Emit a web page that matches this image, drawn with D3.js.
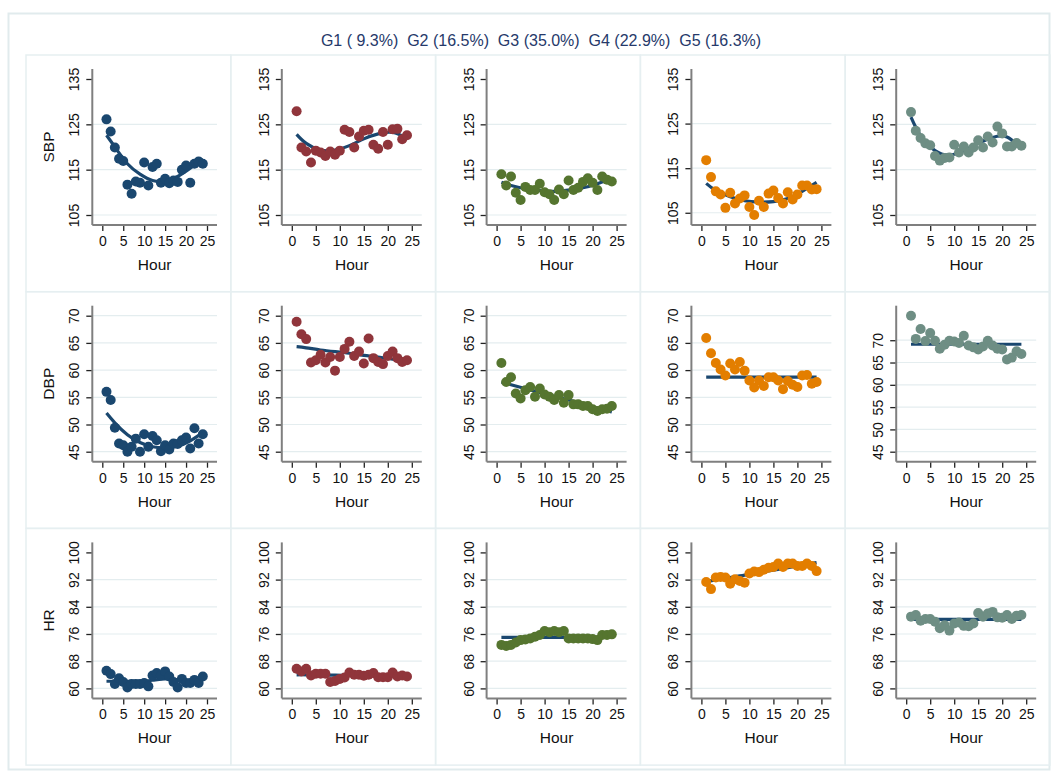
<!DOCTYPE html>
<html>
<head>
<meta charset="utf-8">
<script src="https://cdn.jsdelivr.net/npm/d3@7"></script>
<style>
  body { margin: 0; background: #fff; }
  svg { display: block; font-family: "Liberation Sans", Arial, sans-serif; }
</style>
</head>
<body>
<div id="chart"></div>
<script>
// ---- data ----
const groups = ["G1", "G2", "G3", "G4", "G5"];
const groupPct = ["9.3", "16.5", "35.0", "22.9", "16.3"];
const hours = [1,2,3,4,5,6,7,8,9,10,11,12,13,14,15,16,17,18,19,20,21,22,23,24];
const fitHours = [1, 3, 6, 9, 12, 15, 18, 21, 24];
const xTicks = [0, 5, 10, 15, 20, 25];

const sbpTicks = [105, 115, 125, 135];
const sbpGrid = [105, 115, 125];
const sbpObs = [
  [126.1,123.4,119.9,117.4,116.9,111.7,109.7,112.4,112.1,116.6,111.5,115.6,116.3,112.1,113.0,112.0,112.6,112.3,115.0,115.9,112.1,116.3,116.8,116.3],
  [127.9,119.9,119.0,116.6,119.2,118.8,118.0,119.0,118.3,119.2,123.8,123.3,119.9,122.3,123.6,123.8,120.5,119.6,123.3,120.5,123.9,124.0,121.7,122.6],
  [114.0,111.5,113.5,109.9,108.3,111.2,110.5,110.5,111.9,110.0,109.6,108.3,110.6,109.6,112.6,110.5,111.0,112.3,113.1,112.1,110.5,113.5,112.8,112.4],
  [116.8,113.0,109.8,109.1,106.1,109.5,107.1,108.2,108.9,106.3,104.5,107.7,106.3,109.3,110.0,108.3,107.1,109.6,108.0,109.1,111.1,111.1,110.2,110.3],
  [127.7,123.6,122.0,120.8,120.4,118.0,117.0,117.6,117.7,120.5,118.8,120.1,118.8,119.9,121.5,119.9,122.3,121.0,124.5,123.0,120.1,120.1,120.9,120.3]
];
const sbpFit = [
  [122.6,120.0,116.3,114.0,112.6,112.5,113.5,115.3,117.4],
  [122.8,120.8,119.3,119.3,120.3,121.8,122.9,123.2,122.0],
  [112.2,111.5,110.8,110.4,110.2,110.5,111.0,111.9,113.1],
  [111.6,110.0,108.6,107.7,107.4,107.5,108.2,109.8,111.8],
  [126.6,122.5,119.2,118.2,119.2,120.8,122.1,122.2,119.5]
];

const dbpTicks = [45, 50, 55, 60, 65, 70];
const dbpGrid = [45, 50, 55, 60, 65, 70];
const dbpObs = [
  [56.0,54.5,49.4,46.5,46.2,45.0,45.9,47.4,45.0,48.2,45.9,47.9,47.1,45.1,46.2,45.4,46.5,46.4,47.1,47.6,45.6,49.3,46.5,48.2],
  [68.9,66.6,65.7,61.4,61.8,62.8,61.4,62.4,59.9,62.4,63.9,65.2,62.6,63.4,61.2,65.8,62.2,61.5,61.1,62.6,63.4,62.2,61.5,61.8],
  [61.3,57.8,58.7,55.7,54.8,56.3,56.9,55.1,56.6,55.5,55.1,54.5,55.4,54.0,55.4,53.7,53.7,53.4,53.4,52.8,52.5,52.8,52.9,53.4],
  [65.9,63.1,61.3,60.1,59.0,61.2,60.1,61.5,59.9,58.1,56.8,58.1,57.1,58.7,58.7,58.1,56.5,58.0,57.3,56.9,59.0,59.1,57.5,57.8],
  [75.5,70.3,72.5,69.8,71.6,69.9,68.1,69.0,69.9,69.7,69.4,71.0,68.8,68.4,67.9,68.6,69.9,68.8,68.1,67.9,65.7,66.1,67.5,66.9]
];
const dbpFit = [
  [52.1,50.3,48.1,46.7,45.9,45.7,46.0,47.0,48.5],
  [64.3,64.1,63.7,63.4,63.1,62.7,62.4,62.0,61.7],
  [57.8,57.3,56.6,55.9,55.2,54.5,53.8,53.0,52.3],
  [58.7,58.7,58.7,58.7,58.7,58.7,58.7,58.7,58.7],
  [69.1,69.1,69.1,69.1,69.1,69.1,69.1,69.1,69.1]
];

const hrTicks = [60, 68, 76, 84, 92, 100];
const hrGrid = [60, 68, 76, 84, 92];
const hrObs = [
  [65.2,64.2,61.3,63.0,61.9,60.3,61.3,61.3,61.3,61.6,60.6,63.8,64.5,63.8,65.0,63.5,61.9,60.3,62.8,61.6,61.6,62.5,61.6,63.5],
  [65.8,65.0,65.8,63.8,64.3,64.3,64.3,61.9,62.2,62.8,63.2,64.7,64.0,64.0,63.7,64.0,64.5,63.3,63.3,63.3,64.7,63.5,63.8,63.5],
  [72.8,72.5,72.8,73.5,74.2,74.4,74.7,75.2,75.7,76.9,76.5,76.9,76.5,76.9,74.7,74.7,74.7,74.7,74.7,74.5,74.2,75.7,75.7,75.9],
  [91.3,89.2,92.6,92.8,92.6,90.8,92.1,91.6,91.1,93.8,94.4,94.2,94.9,95.5,95.7,96.7,95.7,96.7,96.7,96.0,96.0,96.7,96.0,94.5],
  [81.1,81.6,79.9,80.4,80.4,79.6,77.7,78.6,77.0,79.1,79.4,78.4,78.3,79.1,82.2,81.1,82.0,82.5,80.9,80.8,81.6,80.4,81.4,81.6]
];
const hrFit = [
  [62.1,62.1,62.1,62.1,62.4,62.8,62.5,62.2,62.2],
  [64.0,64.0,63.9,63.9,63.8,63.8,63.8,63.7,63.7],
  [75.0,75.0,75.0,75.0,75.0,75.0,75.0,75.0,75.0],
  [91.4,91.9,92.6,93.3,94.1,94.8,95.5,96.3,97.0],
  [80.3,80.3,80.3,80.3,80.3,80.3,80.3,80.3,80.3]
];

// ---- styles ----
const groupColors = ["#1a476f", "#90353b", "#55752f", "#e37e00", "#6e8e84"];
const fitColor = "#1a476f";

const width = 1053, height = 775;
const gridLeft = 26, gridTop = 55, cellW = 204.8, cellH = 236.7;

const measures = [
  {label: "SBP", ticks: sbpTicks, grid: sbpGrid, obs: sbpObs, fit: sbpFit},
  {label: "DBP", ticks: dbpTicks, grid: dbpGrid, obs: dbpObs, fit: dbpFit},
  {label: "HR",  ticks: hrTicks,  grid: hrGrid,  obs: hrObs,  fit: hrFit}
];

const svg = d3.select("#chart").append("svg")
  .attr("width", width)
  .attr("height", height);

// outer frame
svg.append("rect")
  .attr("x", 8.5).attr("y", 13.5)
  .attr("width", 1041).attr("height", 756)
  .attr("fill", "none")
  .attr("stroke", "#e1ebed")
  .attr("stroke-width", 2);

// title line with the group shares (double spaces kept)
svg.append("text")
  .attr("x", 541).attr("y", 46)
  .attr("text-anchor", "middle")
  .attr("xml:space", "preserve")
  .style("white-space", "pre")
  .attr("font-size", 16)
  .attr("fill", "#26396a")
  .text(groups.map((g, i) => `${g} (${groupPct[i].padStart(4, "\u00a0")}%)`).join("\u00a0\u00a0"));

measures.forEach((m, r) => {
  groups.forEach((g, c) => {
    const L = gridLeft + c * cellW;
    const T = gridTop + r * cellH;
    const ax0 = L + (c === 0 ? 66.3 : 51);
    const ax1 = L + 191;
    const ay0 = T + 14;
    const ay1 = T + 170;

    const obs = m.obs[c];
    const lo = Math.min(d3.min(m.ticks), d3.min(obs));
    const hi = Math.max(d3.max(m.ticks), d3.max(obs));

    const x = d3.scaleLinear().domain([0, 25]).range([ax0 + 10, ax1 - 10]);
    const y = d3.scaleLinear().domain([lo, hi]).range([ay1 - 10, ay0 + 10]);

    const panel = svg.append("g");

    // panel frame
    panel.append("rect")
      .attr("x", L).attr("y", T)
      .attr("width", cellW).attr("height", cellH)
      .attr("fill", "none")
      .attr("stroke", "#e6eff1")
      .attr("stroke-width", 1.5);

    // gridlines
    panel.selectAll(".grid")
      .data(m.grid)
      .enter().append("line")
      .attr("x1", ax0).attr("x2", ax1)
      .attr("y1", d => y(d)).attr("y2", d => y(d))
      .attr("stroke", "#e4edef")
      .attr("stroke-width", 1.2);

    // y axis (rotated tick labels)
    const yAxis = panel.append("g")
      .attr("transform", `translate(${ax0},0)`)
      .call(d3.axisLeft(y).tickValues(m.ticks).tickSize(6).tickSizeOuter(0));
    yAxis.select(".domain").remove();
    yAxis.selectAll(".tick line").attr("stroke", "#222").attr("stroke-width", 1.3);
    yAxis.selectAll(".tick text")
      .attr("x", null).attr("dy", null)
      .attr("text-anchor", "middle")
      .attr("transform", "translate(-13,0) rotate(-90)")
      .attr("font-size", 14)
      .attr("font-family", null)
      .attr("fill", "#111");

    // x axis
    const xAxis = panel.append("g")
      .attr("transform", `translate(0,${ay1})`)
      .call(d3.axisBottom(x).tickValues(xTicks).tickSize(6).tickSizeOuter(0).tickPadding(5));
    xAxis.select(".domain").remove();
    xAxis.selectAll(".tick line").attr("stroke", "#222").attr("stroke-width", 1.3);
    xAxis.selectAll(".tick text")
      .attr("font-size", 14)
      .attr("font-family", null)
      .attr("fill", "#111");

    // axis lines spanning the plot region
    panel.append("line")
      .attr("x1", ax0).attr("x2", ax0)
      .attr("y1", ay0).attr("y2", ay1)
      .attr("stroke", "#7f7f7f").attr("stroke-width", 2);
    panel.append("line")
      .attr("x1", ax0).attr("x2", ax1)
      .attr("y1", ay1).attr("y2", ay1)
      .attr("stroke", "#7f7f7f").attr("stroke-width", 2);

    // fitted trajectory
    const line = d3.line()
      .x((d, i) => x(fitHours[i]))
      .y(d => y(d))
      .curve(d3.curveNatural);
    panel.append("path")
      .datum(m.fit[c])
      .attr("d", line)
      .attr("fill", "none")
      .attr("stroke", fitColor)
      .attr("stroke-width", 3.2);

    // observed means
    panel.selectAll(".pt")
      .data(obs)
      .enter().append("circle")
      .attr("cx", (d, i) => x(hours[i]))
      .attr("cy", d => y(d))
      .attr("r", 5)
      .attr("fill", groupColors[c]);

    // axis titles
    panel.append("text")
      .attr("x", (ax0 + ax1) / 2)
      .attr("y", T + 215)
      .attr("text-anchor", "middle")
      .attr("font-size", 15.5)
      .attr("fill", "#111")
      .text("Hour");

    if (c === 0) {
      panel.append("text")
        .attr("transform", `translate(${L + 28},${(ay0 + ay1) / 2}) rotate(-90)`)
        .attr("text-anchor", "middle")
        .attr("font-size", 15.5)
        .attr("fill", "#111")
        .text(m.label);
    }
  });
});
</script>
</body>
</html>
